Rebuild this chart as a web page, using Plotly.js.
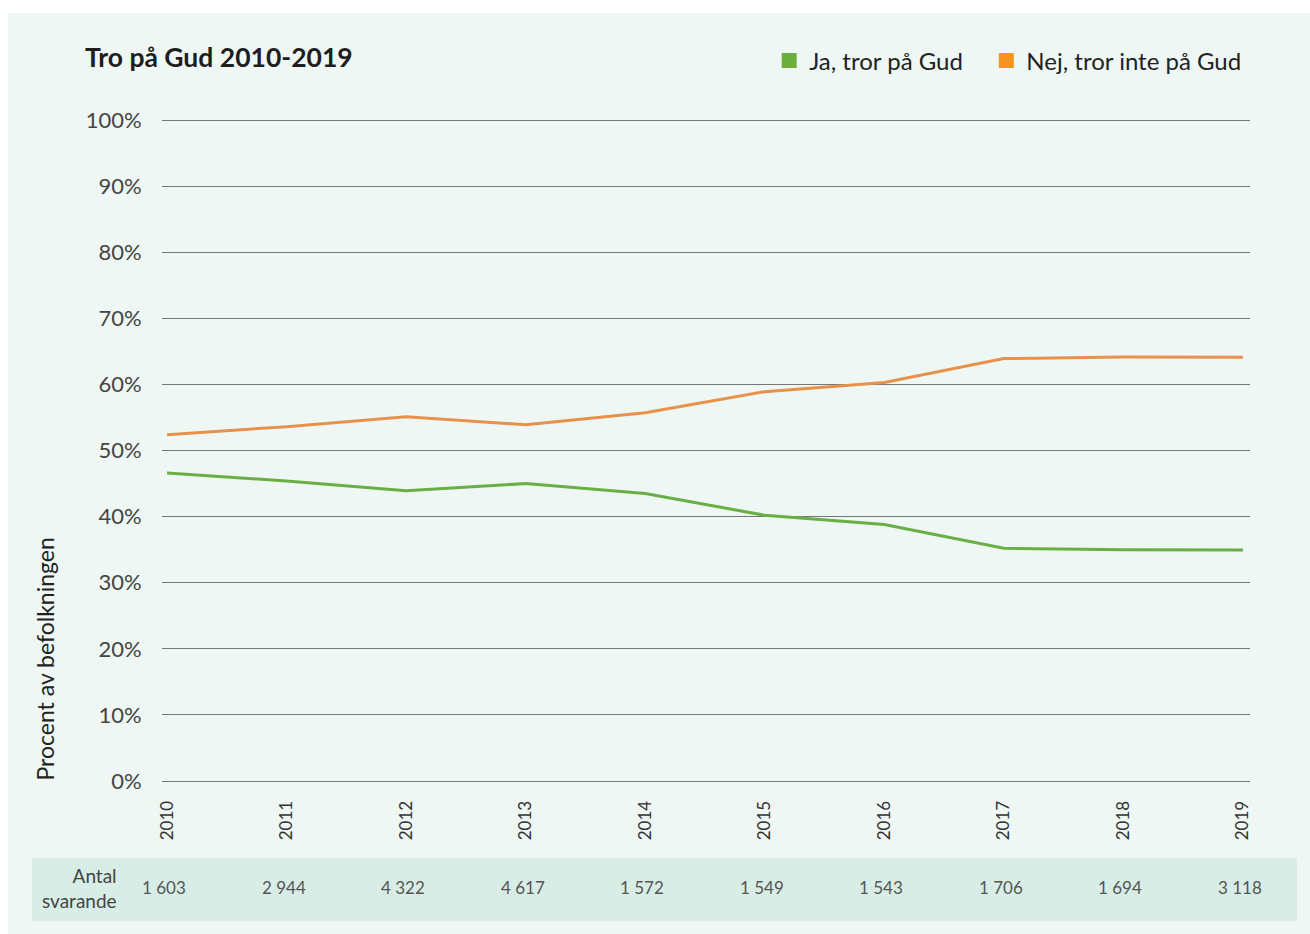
<!DOCTYPE html>
<html>
<head>
<meta charset="utf-8">
<script src="https://cdn.plot.ly/plotly-3.0.1.min.js"></script>
<style>
html,body{margin:0;padding:0;background:#ffffff;}
#chart{width:1310px;height:934px;}
</style>
</head>
<body>
<div id="chart"></div>
<script>
const years = [2010, 2011, 2012, 2013, 2014, 2015, 2016, 2017, 2018, 2019];
const ja = [46.6, 45.4, 43.9, 45.0, 43.5, 40.2, 38.8, 35.2, 35.0, 34.95];
const nej = [52.4, 53.6, 55.1, 53.9, 55.7, 58.9, 60.3, 63.9, 64.15, 64.1];
const antal = ["1 603", "2 944", "4 322", "4 617", "1 572", "1 549", "1 543", "1 706", "1 694", "3 118"];
const yTicks = [0, 10, 20, 30, 40, 50, 60, 70, 80, 90, 100];
const yTickText = yTicks.map(v => v + "%");

const green = "#6aaf46";
const orange = "#e8914a";
const font = "Lato, 'Open Sans', sans-serif";

const traces = [
  {x: years, y: ja, type: "scatter", mode: "lines", name: "Ja, tror på Gud",
   line: {color: green, width: 3}, showlegend: false, hoverinfo: "x+y"},
  {x: years, y: nej, type: "scatter", mode: "lines", name: "Nej, tror inte på Gud",
   line: {color: orange, width: 3}, showlegend: false, hoverinfo: "x+y"},
  {x: [null], y: [null], type: "scatter", mode: "markers", name: "Ja, tror på Gud\u00a0\u00a0\u00a0",
   marker: {symbol: "square", size: 15, color: "#6aaf3c"}},
  {x: [null], y: [null], type: "scatter", mode: "markers", name: "Nej, tror inte på Gud",
   marker: {symbol: "square", size: 15, color: "#f7941d"}}
];

const annotations = years.map((yr, i) => ({
  x: yr, xref: "x", y: -0.1559, yref: "paper", text: antal[i], showarrow: false,
  xanchor: "center", yanchor: "middle", xshift: -3,
  font: {family: font, size: 17, color: "#555555"}
}));
annotations.push({
  x: -0.0395, xref: "paper", y: -0.1559, yref: "paper", text: "Antal<br>svarande",
  showarrow: false, xanchor: "right", yanchor: "middle", align: "right",
  font: {family: font, size: 19, color: "#444444"}
});
annotations.push({
  x: -0.1075, xref: "paper", y: 0.0015, yref: "paper", text: "Procent av befolkningen",
  showarrow: false, textangle: -90, xanchor: "center", yanchor: "bottom",
  font: {family: font, size: 23, color: "#222222"}
});

const layout = {
  width: 1310, height: 934,
  margin: {l: 162, r: 60, t: 117, b: 150},
  paper_bgcolor: "#ffffff",
  plot_bgcolor: "rgba(0,0,0,0)",
  title: {text: "Tro på Gud 2010-2019", xref: "container", yref: "container",
          x: 0.0649, xanchor: "left", y: 1 - 58/934, yanchor: "middle",
          font: {family: font, size: 26.5, color: "#1e1e1e", weight: 700}},
  xaxis: {
    range: [2009.958, 2019.059], tickmode: "array", tickvals: years,
    ticktext: years.map(String), tickangle: -90,
    showgrid: false, zeroline: false, showline: false,
    ticks: "outside", ticklen: 9, tickcolor: "rgba(0,0,0,0)",
    tickfont: {family: font, size: 17, color: "#333333"}
  },
  yaxis: {
    range: [-0.454, 100.454], tickmode: "array", tickvals: yTicks, ticktext: yTickText,
    showgrid: true, gridcolor: "#777777", gridwidth: 1, zeroline: false, showline: false,
    ticks: "outside", ticklen: 15, tickcolor: "rgba(0,0,0,0)",
    tickfont: {family: font, size: 22, color: "#444444"}
  },
  legend: {orientation: "h", x: 0.9965, xanchor: "right", y: 1.084, yanchor: "middle",
           font: {family: font, size: 24, color: "#222222"}, bgcolor: "rgba(0,0,0,0)",
           itemwidth: 30, tracegroupgap: 0},
  shapes: [
    {type: "rect", xref: "paper", yref: "paper", x0: -0.1415, x1: 1.06, y0: -0.2249, y1: 1.1559,
     fillcolor: "#eef7f3", line: {width: 0}, layer: "below"},
    {type: "rect", xref: "paper", yref: "paper", x0: -0.1195, x1: 1.0432, y0: -0.2054, y1: -0.1109,
     fillcolor: "#d7ede5", line: {width: 0}, layer: "below"}
  ],
  annotations: annotations,
  hovermode: "closest"
};

Plotly.newPlot("chart", traces, layout, {displayModeBar: false, responsive: false});
</script>
</body>
</html>
